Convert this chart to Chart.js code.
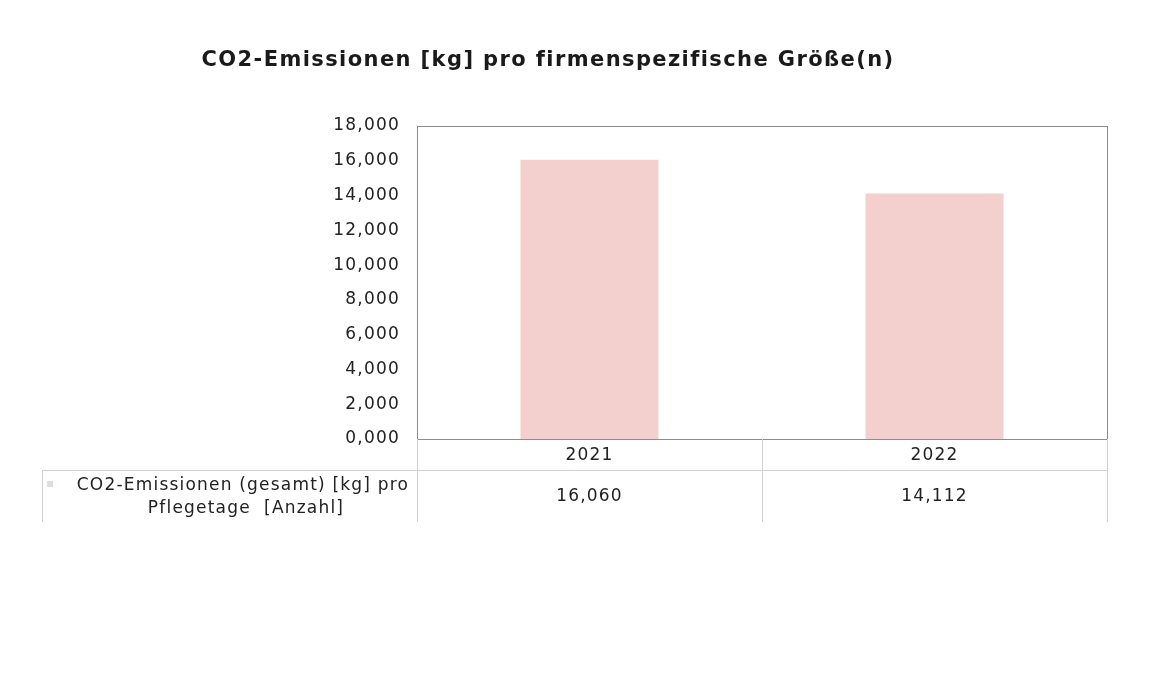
<!DOCTYPE html>
<html>
<head>
<meta charset="utf-8">
<script src="https://cdn.jsdelivr.net/npm/chart.js@4"></script>
<style>
  html, body { margin: 0; padding: 0; background: #fff; }
  #wrap { width: 1174px; height: 688px; }
</style>
</head>
<body>
<div id="wrap"><canvas id="myChart" width="1174" height="688"></canvas></div>
<script>
const chartTitle = "CO2-Emissionen [kg] pro firmenspezifische Größe(n)";
const years = ["2021", "2022"];
const emissions = [16.060, 14.112];
const seriesName = ["CO2-Emissionen (gesamt) [kg] pro", "Pflegetage  [Anzahl]"];

const fmt = (v) => v.toFixed(3).replace(".", ",");

// the scanned original is a bit wider than DejaVu, so loosen the letters
const spacing = {
    id: "spacing",
    beforeUpdate(chart) { chart.ctx.letterSpacing = "1.2px"; },
    beforeDraw(chart) { chart.ctx.letterSpacing = "1.2px"; },
};

const dataTable = {
    id: "dataTable",
    afterDraw(chart) {
        const ctx = chart.ctx;
        const area = chart.chartArea;
        const x = chart.scales.x;
        const rowTop = area.bottom + 31;
        const rowBottom = area.bottom + 83;
        ctx.save();

        // plot frame
        ctx.strokeStyle = "#8c8c8c";
        ctx.lineWidth = 1;
        ctx.strokeRect(area.left + 0.5, area.top + 0.5, area.right - area.left, area.bottom - area.top);

        // table lines
        ctx.strokeStyle = "#d0d0d0";
        ctx.beginPath();
        ctx.moveTo(42, rowTop + 0.5);
        ctx.lineTo(area.right, rowTop + 0.5);
        const edges = [area.left, (area.left + area.right) / 2, area.right];
        edges.forEach((ex) => {
            ctx.moveTo(Math.round(ex) + 0.5, area.bottom);
            ctx.lineTo(Math.round(ex) + 0.5, rowBottom);
        });
        ctx.moveTo(42.5, rowTop);
        ctx.lineTo(42.5, rowBottom);
        ctx.stroke();

        // values row
        ctx.letterSpacing = "1.2px";
        ctx.fillStyle = "#222";
        ctx.font = "17px 'DejaVu Sans'";
        ctx.textAlign = "center";
        ctx.textBaseline = "middle";
        emissions.forEach((v, i) => {
            ctx.fillText(fmt(v), x.getPixelForValue(i), rowTop + 27);
        });

        // series label
        ctx.fillText(seriesName[0], 243, rowTop + 16);
        ctx.fillText(seriesName[1], 246, rowTop + 39);
        ctx.fillStyle = "#e3dcdc";
        ctx.fillRect(47, rowTop + 11, 6, 6);

        // title
        ctx.letterSpacing = "1.4px";
        ctx.fillStyle = "#1a1a1a";
        ctx.font = "bold 21px 'DejaVu Sans'";
        ctx.fillText(chartTitle, 548, 61);
        ctx.restore();
    },
};

const ctx = document.getElementById("myChart");
new Chart(ctx, {
    type: "bar",
    data: {
        labels: years,
        datasets: [
            {
                label: seriesName.join(" "),
                data: emissions,
                backgroundColor: "#f3cfcd",
                borderWidth: 0,
                categoryPercentage: 1,
                barPercentage: 0.4,
            },
        ],
    },
    options: {
        responsive: false,
        animation: false,
        layout: { padding: { top: 126, right: 67, bottom: 0, left: 0 } },
        plugins: {
            legend: { display: false },
            title: { display: false },
            tooltip: { enabled: false },
        },
        scales: {
            x: {
                grid: { display: false, drawTicks: false },
                border: { display: false },
                ticks: { color: "#222", font: { family: "DejaVu Sans", size: 17 }, padding: 6 },
                afterFit: (s) => { s.height = 249; },
            },
            y: {
                min: 0,
                max: 18,
                grid: { display: false, drawTicks: false },
                border: { display: false },
                ticks: {
                    stepSize: 2,
                    color: "#222",
                    font: { family: "DejaVu Sans", size: 17 },
                    padding: 17,
                    callback: (v) => fmt(v),
                },
                afterFit: (s) => { s.width = 417; },
            },
        },
    },
    plugins: [spacing, dataTable],
});
</script>
</body>
</html>
